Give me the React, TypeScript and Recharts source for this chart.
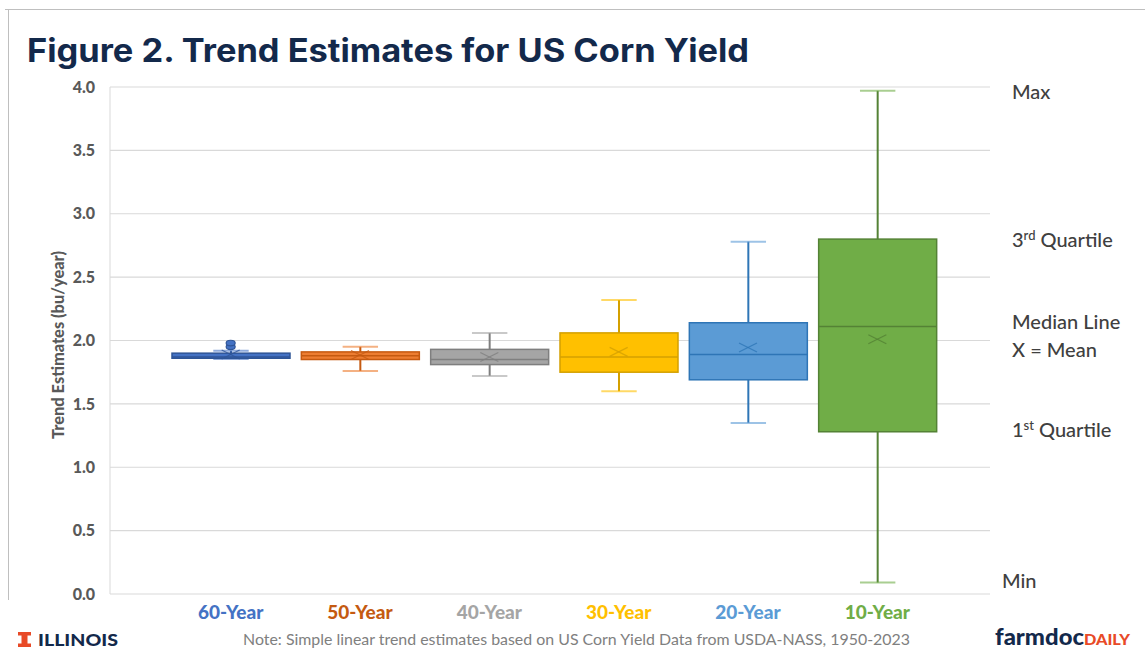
import React from 'react';
import { ComposedChart, Bar, Scatter, XAxis, YAxis, CartesianGrid } from 'recharts';

const categories = ['60-Year', '50-Year', '40-Year', '30-Year', '20-Year', '10-Year'];
const minValues = [1.855, 1.76, 1.72, 1.60, 1.35, 0.09];
const q1Values = [1.86, 1.85, 1.81, 1.75, 1.69, 1.28];
const medianValues = [1.87, 1.88, 1.85, 1.87, 1.89, 2.11];
const q3Values = [1.90, 1.91, 1.93, 2.06, 2.14, 2.80];
const maxValues = [1.92, 1.95, 2.06, 2.32, 2.78, 3.97];
const meanValues = [1.89, 1.885, 1.87, 1.91, 1.945, 2.01];
const outlierA = [1.95, null, null, null, null, null];
const outlierB = [1.98, null, null, null, null, null];
const yTicks = [0, 0.5, 1, 1.5, 2, 2.5, 3, 3.5, 4];

const fillColors = ['#4472C4', '#ED7D31', '#A5A5A5', '#FFC000', '#5B9BD5', '#70AD47'];
const strokeColors = ['#2F5597', '#C55A11', '#7F7F7F', '#D4A000', '#2E75B6', '#548235'];
const labelColors = ['#4472C4', '#C55A11', '#A5A5A5', '#FFC000', '#5B9BD5', '#70AD47'];

const data = categories.map((name, i) => ({
  name,
  idx: i,
  range: [minValues[i], maxValues[i]],
  min: minValues[i],
  q1: q1Values[i],
  median: medianValues[i],
  q3: q3Values[i],
  max: maxValues[i],
  mean: meanValues[i],
  outA: outlierA[i],
  outB: outlierB[i],
}));

const BoxShape = (props: any) => {
  const { x, y, width, height, payload } = props;
  if (!payload) return null;
  const top = Math.min(y, y + height);
  const h = Math.abs(height);
  const span = payload.max - payload.min;
  const py = (v: number) => top + ((payload.max - v) / span) * h;
  const i = payload.idx;
  const cx = x + width / 2;
  const capW = width * 0.3;
  const yMax = py(payload.max);
  const yMin = py(payload.min);
  const yQ3 = py(payload.q3);
  const yQ1 = py(payload.q1);
  const yMed = py(payload.median);
  return (
    <g>
      <line x1={cx} x2={cx} y1={yMax} y2={yQ3} stroke={strokeColors[i]} strokeWidth={2} />
      <line x1={cx} x2={cx} y1={yQ1} y2={yMin} stroke={strokeColors[i]} strokeWidth={2} />
      <line x1={cx - capW / 2} x2={cx + capW / 2} y1={yMax} y2={yMax} stroke={fillColors[i]} strokeOpacity={0.6} strokeWidth={2} />
      <line x1={cx - capW / 2} x2={cx + capW / 2} y1={yMin} y2={yMin} stroke={fillColors[i]} strokeOpacity={0.6} strokeWidth={2} />
      <rect x={x} y={yQ3} width={width} height={Math.max(yQ1 - yQ3, 1)} fill={fillColors[i]} stroke={strokeColors[i]} strokeWidth={1.5} />
      <line x1={x} x2={x + width} y1={yMed} y2={yMed} stroke={strokeColors[i]} strokeWidth={1.5} />
    </g>
  );
};

const MeanMark = (props: any) => {
  const { cx, cy, payload } = props;
  if (!payload || cx == null || cy == null) return null;
  const i = payload.idx;
  return (
    <g stroke={strokeColors[i]} strokeWidth={1.2} strokeOpacity={0.8}>
      <line x1={cx - 9} x2={cx + 9} y1={cy - 4.5} y2={cy + 4.5} />
      <line x1={cx - 9} x2={cx + 9} y1={cy + 4.5} y2={cy - 4.5} />
    </g>
  );
};

const OutlierMark = (key: 'outA' | 'outB') => (props: any) => {
  const { cx, cy, payload } = props;
  if (!payload || payload[key] == null || cx == null || cy == null) return null;
  const i = payload.idx;
  return <ellipse cx={cx} cy={cy} rx={4.5} ry={2.8} fill={fillColors[i]} stroke={strokeColors[i]} strokeWidth={1.2} />;
};

const XTick = (props: any) => {
  const { x, y, payload, index } = props;
  return (
    <text x={x} y={y + 17} textAnchor="middle" fill={labelColors[index]} fontFamily="Lato" fontWeight={900} fontSize={19}>
      {payload.value}
    </text>
  );
};

const annoStyle = { fontFamily: 'Lato', fontSize: 20, fill: '#404040', fontWeight: 500 } as any;

export default function App() {
  return (
    <div style={{ position: 'absolute', left: 0, top: 0, width: 1145, height: 650, background: '#ffffff', overflow: 'hidden' }}>
      <ComposedChart
        width={1145}
        height={650}
        data={data}
        margin={{ top: 87, right: 155, bottom: 26, left: 50 }}
        barSize={118}
      >
        <CartesianGrid vertical={false} stroke="#D9D9D9" strokeWidth={1.2} />
        <XAxis
          dataKey="name"
          axisLine={false}
          tickLine={false}
          padding={{ left: 56, right: 48 }}
          height={30}
          interval={0}
          tick={<XTick />}
        />
        <YAxis
          domain={[0, 4]}
          ticks={yTicks}
          width={60}
          axisLine={{ stroke: '#D9D9D9' }}
          tickLine={false}
          tickMargin={9}
          tickFormatter={(v: number) => v.toFixed(1)}
          tick={{ fill: '#595959', fontFamily: 'Lato', fontWeight: 900, fontSize: 16 }}
        />
        <Bar dataKey="range" shape={<BoxShape />} isAnimationActive={false} />
        <Scatter dataKey="mean" shape={<MeanMark />} isAnimationActive={false} />
        <Scatter dataKey="outA" shape={OutlierMark('outA')} isAnimationActive={false} />
        <Scatter dataKey="outB" shape={OutlierMark('outB')} isAnimationActive={false} />
      </ComposedChart>
      <svg width={1145} height={650} style={{ position: 'absolute', left: 0, top: 0, pointerEvents: 'none' }}>
        <line x1={5} x2={1145} y1={9.5} y2={9.5} stroke="#BFBFBF" strokeWidth={1} />
        <line x1={8.5} x2={8.5} y1={9.5} y2={600} stroke="#BFBFBF" strokeWidth={1} />
        <text x={27} y={62} fontFamily="Inter" fontWeight={700} fontSize={32} fill="#13294B" textLength={722} lengthAdjust="spacingAndGlyphs">
          Figure 2. Trend Estimates for US Corn Yield
        </text>
        <text
          x={0}
          y={0}
          transform="translate(64, 345) rotate(-90)"
          textAnchor="middle"
          fontFamily="Lato"
          fontWeight={900}
          fontSize={17}
          fill="#595959"
          textLength={188}
          lengthAdjust="spacingAndGlyphs"
        >
          Trend Estimates (bu/year)
        </text>
        <text x={1012} y={99} style={annoStyle}>Max</text>
        <text x={1012} y={247} style={annoStyle}>
          3<tspan fontSize={13} dy={-7}>rd</tspan>
          <tspan dy={7}> Quartile</tspan>
        </text>
        <text x={1012} y={329} style={annoStyle}>Median Line</text>
        <text x={1012} y={357} style={annoStyle}>X = Mean</text>
        <text x={1012} y={437} style={annoStyle}>
          1<tspan fontSize={13} dy={-7}>st</tspan>
          <tspan dy={7}> Quartile</tspan>
        </text>
        <text x={1002} y={588} style={annoStyle}>Min</text>
        <g fill="#E84A27">
          <rect x={18} y={632} width={13} height={3.5} />
          <rect x={21.5} y={632} width={6} height={15} />
          <rect x={18} y={643.5} width={13} height={3.5} />
        </g>
        <text x={38} y={646} fontFamily="Lato" fontWeight={900} fontSize={17} fill="#13294B" textLength={80} lengthAdjust="spacingAndGlyphs">
          ILLINOIS
        </text>
        <text x={243} y={645} fontFamily="Lato" fontSize={15} fill="#808080" textLength={667} lengthAdjust="spacingAndGlyphs">
          Note: Simple linear trend estimates based on US Corn Yield Data from USDA-NASS, 1950-2023
        </text>
        <text x={995} y={645} fontFamily="Lato" fontWeight={900} fontSize={22} fill="#13294B" textLength={135} lengthAdjust="spacingAndGlyphs">
          farmdoc<tspan fill="#E84A27" fontSize={15}>DAILY</tspan>
        </text>
      </svg>
    </div>
  );
}
